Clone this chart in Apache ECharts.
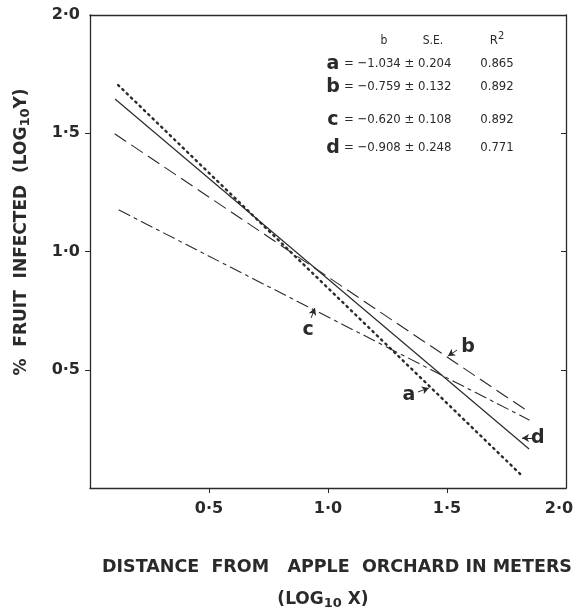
<!DOCTYPE html>
<html>
<head>
<meta charset="utf-8">
<script src="https://cdn.jsdelivr.net/npm/echarts@6/dist/echarts.min.js"></script>
<style>
  html, body { margin: 0; padding: 0; background: #fff; }
  #chart { width: 577px; height: 613px; }
</style>
</head>
<body>
<div id="chart"></div>
<script>
// regression lines, log10 distance vs log10 % infected (end points)
var lineA = [[0.118, 1.704], [1.82, 0.047]];
var lineB = [[0.105, 1.497], [1.845, 0.321]];
var lineC = [[0.122, 1.175], [1.845, 0.288]];
var lineD = [[0.105, 1.645], [1.845, 0.165]];

// curve letters and their arrows (data coords)
var curveNames = ['a', 'b', 'c', 'd'];
var namePos = [[1.340, 0.393], [1.588, 0.596], [0.916, 0.668], [1.882, 0.211]];
var arrowFrom = [[1.378, 0.406], [1.542, 0.583], [0.929, 0.719], [1.857, 0.211]];
var arrowTo = [[1.424, 0.423], [1.504, 0.558], [0.945, 0.761], [1.815, 0.211]];

// table of coefficients
var slopes = ['-1.034', '-0.759', '-0.620', '-0.908'];
var stdErr = ['0.204', '0.132', '0.108', '0.248'];
var rSquared = ['0.865', '0.892', '0.892', '0.771'];

// ticks drawn on the frame
var tickValues = [0.5, 1.0, 1.5];

var ink = '#2a2a2a';
var boldFont = "'DejaVu Sans', sans-serif";
var narrowFont = "'Liberation Sans Narrow', 'DejaVu Sans Condensed', 'Liberation Sans', sans-serif";

var fmtTick = function(v) {
    if (v === 0) return '';
    return v.toFixed(1).replace('.', '\u00b7');
};
// last x label sits a little left of its tick, as on the original
var fmtXTick = function(v) {
    if (v === 2) return '{last|' + fmtTick(v) + '}';
    return fmtTick(v);
};

var chart = echarts.init(document.getElementById('chart'));

var lineSeries = function(data, type, width) {
    return {
        type: 'line',
        data: data,
        symbol: 'none',
        silent: true,
        lineStyle: { color: ink, width: width, type: type, cap: type === 'solid' ? 'butt' : 'round' }
    };
};

var labelData = [];
var arrowData = [];
for (var i = 0; i < curveNames.length; i++) {
    labelData.push({ name: curveNames[i], value: namePos[i] });
    arrowData.push([{ coord: arrowFrom[i] }, { coord: arrowTo[i] }]);
}

var rowY = [64, 87, 120, 148];
var graphics = [];
// header of the table
graphics.push({ type: 'text', x: 384, y: 41, style: { text: 'b', font: '12px ' + narrowFont, fill: ink, align: 'center', verticalAlign: 'middle' } });
graphics.push({ type: 'text', x: 433, y: 41, style: { text: 'S.E.', font: '12px ' + narrowFont, fill: ink, align: 'center', verticalAlign: 'middle' } });
graphics.push({ type: 'text', x: 497, y: 41, style: {
    text: 'R{sup|2}', font: '13px ' + narrowFont, fill: ink, align: 'center', verticalAlign: 'middle',
    rich: { sup: { fontSize: 11, fontFamily: narrowFont, padding: [0, 0, 9, 0], fill: ink } }
} });
for (var r = 0; r < curveNames.length; r++) {
    graphics.push({ type: 'text', x: 333, y: rowY[r], style: { text: curveNames[r], font: 'bold 19px ' + boldFont, fill: ink, align: 'center', verticalAlign: 'middle' } });
    graphics.push({ type: 'text', x: 344, y: rowY[r], style: {
        text: '= \u2212' + slopes[r].slice(1) + ' \u00b1 ' + stdErr[r],
        font: '13px ' + narrowFont, fill: ink, align: 'left', verticalAlign: 'middle'
    } });
    graphics.push({ type: 'text', x: 497, y: rowY[r], style: { text: rSquared[r], font: '13px ' + narrowFont, fill: ink, align: 'center', verticalAlign: 'middle' } });
}
// axis titles
graphics.push({ type: 'text', x: 22, y: 232, rotation: Math.PI / 2, style: {
    text: '%  FRUIT  INFECTED  (LOG{sub|10}Y)', font: 'bold 17px ' + boldFont, fill: ink,
    align: 'center', verticalAlign: 'middle',
    rich: { sub: { fontSize: 13, fontWeight: 'bold', fontFamily: boldFont, padding: [8, 0, 0, 0], fill: ink } }
} });
graphics.push({ type: 'text', x: 337, y: 567, style: {
    text: 'DISTANCE  FROM   APPLE  ORCHARD IN METERS', font: 'bold 17.5px ' + boldFont, fill: ink,
    align: 'center', verticalAlign: 'middle'
} });
graphics.push({ type: 'text', x: 323, y: 600, style: {
    text: '(LOG{sub|10} X)', font: 'bold 17px ' + boldFont, fill: ink,
    align: 'center', verticalAlign: 'middle',
    rich: { sub: { fontSize: 13, fontWeight: 'bold', fontFamily: boldFont, padding: [8, 0, 0, 0], fill: ink } }
} });

var frameLine = { show: true, onZero: false, lineStyle: { color: ink, width: 1.3 } };

var option = {
    backgroundColor: '#fff',
    animation: false,
    grid: { left: 90, right: 11, top: 15, bottom: 125, outerBoundsMode: 'none', containLabel: false },
    xAxis: [{
        type: 'value', min: 0, max: 2, interval: 0.5,
        axisLine: frameLine,
        axisTick: { show: true, length: 5, customValues: tickValues, lineStyle: { color: ink } },
        splitLine: { show: false },
        axisLabel: {
            margin: 13, color: ink, fontSize: 16, fontWeight: 'bold', fontFamily: boldFont,
            formatter: fmtXTick,
            rich: { last: { fontSize: 16, fontWeight: 'bold', fontFamily: boldFont, color: ink, padding: [0, 14, 0, 0] } }
        }
    }, {
        type: 'value', min: 0, max: 2, position: 'top',
        axisLine: frameLine, axisTick: { show: false }, axisLabel: { show: false }, splitLine: { show: false }
    }],
    yAxis: [{
        type: 'value', min: 0, max: 2, interval: 0.5,
        axisLine: frameLine,
        axisTick: { show: true, length: 5, customValues: tickValues, lineStyle: { color: ink } },
        splitLine: { show: false },
        axisLabel: {
            margin: 10, color: ink, fontSize: 16, fontWeight: 'bold', fontFamily: boldFont,
            formatter: fmtTick
        }
    }, {
        type: 'value', min: 0, max: 2, interval: 0.5, position: 'right',
        axisLine: frameLine,
        axisTick: { show: true, inside: true, length: 5, customValues: tickValues, lineStyle: { color: ink } },
        axisLabel: { show: false }, splitLine: { show: false }
    }],
    graphic: graphics,
    series: [
        lineSeries(lineA, [1.5, 4.5], 2.4),
        lineSeries(lineB, [13, 7], 1.1),
        lineSeries(lineC, [12, 5, 3, 5], 1.1),
        lineSeries(lineD, 'solid', 1.2),
        {
            type: 'scatter',
            data: labelData,
            symbolSize: 0,
            silent: true,
            itemStyle: { opacity: 1 },
            label: {
                show: true, position: 'inside', formatter: '{b}',
                color: ink, fontSize: 19, fontWeight: 'bold', fontFamily: boldFont
            },
            markLine: {
                silent: true,
                symbol: ['none', 'arrow'],
                symbolSize: [6, 7],
                label: { show: false },
                lineStyle: { color: ink, width: 1, type: 'solid', opacity: 1 },
                data: arrowData
            }
        }
    ]
};

chart.setOption(option);
</script>
</body>
</html>
